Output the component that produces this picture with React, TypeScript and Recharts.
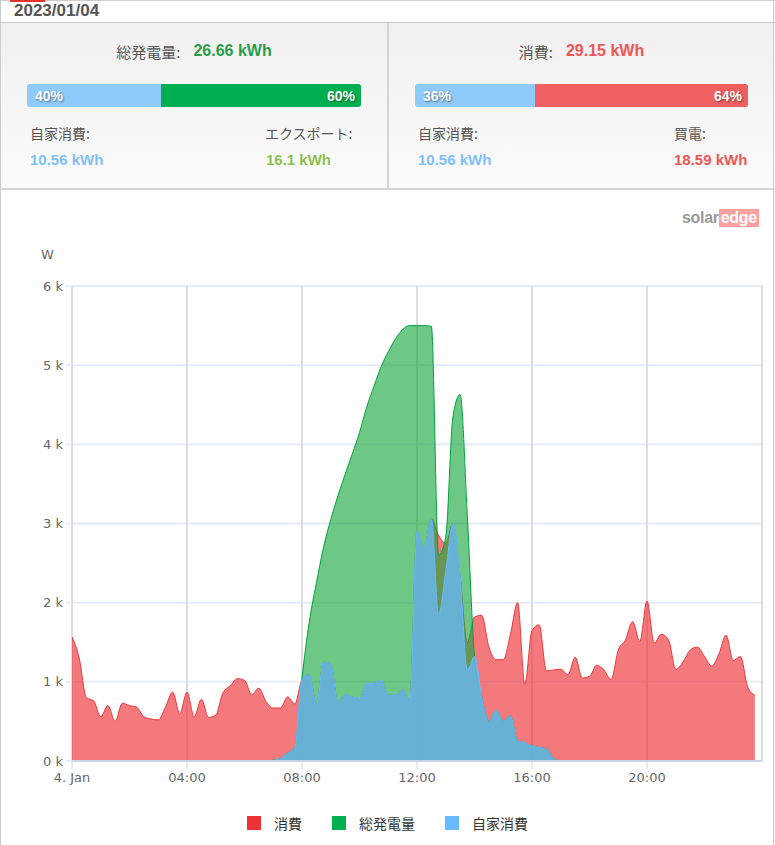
import React from "react";
import { AreaChart, Area, XAxis, YAxis, CartesianGrid } from "recharts";

// 15-minute slots (hours since midnight)
const HOURS = [
  0, 0.25, 0.5, 0.75, 1, 1.25, 1.5, 1.75, 2, 2.25, 2.5, 2.75,
  3, 3.25, 3.5, 3.75, 4, 4.25, 4.5, 4.75, 5, 5.25, 5.5, 5.75,
  6, 6.25, 6.5, 6.75, 7, 7.25, 7.5, 7.75, 8, 8.25, 8.5, 8.75,
  9, 9.25, 9.5, 9.75, 10, 10.25, 10.5, 10.75, 11, 11.25, 11.5, 11.75,
  12, 12.25, 12.5, 12.75, 13, 13.25, 13.5, 13.75, 14, 14.25, 14.5, 14.75,
  15, 15.25, 15.5, 15.75, 16, 16.25, 16.5, 16.75, 17, 17.25, 17.5, 17.75,
  18, 18.25, 18.5, 18.75, 19, 19.25, 19.5, 19.75, 20, 20.25, 20.5, 20.75,
  21, 21.25, 21.5, 21.75, 22, 22.25, 22.5, 22.75, 23, 23.25, 23.5, 23.75,
];

// 消費 (kW)
const CONSUMPTION = [
  1.57, 1.3, 0.8, 0.76, 0.56, 0.7, 0.5, 0.73, 0.7, 0.68, 0.56, 0.53,
  0.52, 0.68, 0.87, 0.6, 0.87, 0.56, 0.78, 0.55, 0.58, 0.86, 0.95, 1.04,
  1.02, 0.84, 0.92, 0.75, 0.67, 0.67, 0.81, 0.72, 1.03, 1.09, 0.72, 1.25,
  1.22, 0.74, 0.84, 0.81, 0.79, 0.98, 0.98, 1.02, 0.83, 0.83, 0.9, 0.76,
  2.9, 2.68, 3.06, 2.85, 2.75, 3.0, 2.33, 1.5, 1.82, 1.84, 1.44, 1.28,
  1.28, 1.6, 2.0, 0.97, 1.65, 1.72, 1.14, 1.15, 1.16, 1.09, 1.31, 1.05,
  1.07, 1.21, 1.15, 1.03, 1.4, 1.53, 1.76, 1.51, 2.02, 1.49, 1.6, 1.53,
  1.16, 1.25, 1.4, 1.44, 1.32, 1.2, 1.35, 1.59, 1.27, 1.32, 0.94, 0.83,
];

// 総発電量 (kW)
const PRODUCTION = [
  null, null, null, null, null, null, null, null, null, null, null, null,
  null, null, null, null, null, null, null, null, null, null, null, null,
  null, null, null, 0, 0.01, 0.03, 0.1, 0.17, 1.05, 1.75, 2.25, 2.7,
  3.05, 3.35, 3.62, 3.88, 4.15, 4.47, 4.73, 4.98, 5.17, 5.33, 5.45, 5.5,
  5.5, 5.5, 5.49, 2.6, 2.83, 4.35, 4.63, 3.1, 1.32, 0.81, 0.5, 0.64,
  0.5, 0.57, 0.25, 0.23, 0.19, 0.17, 0.15, 0.03, 0, 0, null, null,
  null, null, null, null, null, null, null, null, null, null, null, null,
  null, null, null, null, null, null, null, null, null, null, null, null,
];

// 自家消費 (kW)
const SELF_USE = [
  null, null, null, null, null, null, null, null, null, null, null, null,
  null, null, null, null, null, null, null, null, null, null, null, null,
  null, null, null, 0, 0.01, 0.03, 0.1, 0.17, 1.03, 1.09, 0.72, 1.25,
  1.22, 0.74, 0.84, 0.81, 0.79, 0.98, 0.98, 1.02, 0.83, 0.83, 0.9, 0.76,
  2.9, 2.68, 3.06, 1.85, 2.4, 3.0, 2.33, 1.15, 1.32, 0.81, 0.5, 0.64,
  0.5, 0.57, 0.25, 0.23, 0.19, 0.17, 0.15, 0.03, 0, 0, null, null,
  null, null, null, null, null, null, null, null, null, null, null, null,
  null, null, null, null, null, null, null, null, null, null, null, null,
];

const X_TICKS = [0, 4, 8, 12, 16, 20];
const X_TICK_LABELS = ["4. Jan", "04:00", "08:00", "12:00", "16:00", "20:00"];
const Y_TICKS = [0, 1, 2, 3, 4, 5, 6];

const SERIES_NAMES = ["消費", "総発電量", "自家消費"];
const SERIES_COLORS = ["#ee3338", "#00b050", "#66bbff"];

const rows = HOURS.map((h, i) => ({
  h,
  consumption: CONSUMPTION[i],
  production: PRODUCTION[i],
  selfUse: SELF_USE[i],
}));

const JP = '"Noto Sans CJK JP", "Noto Sans", sans-serif';
const LAT = '"Liberation Sans", Arial, sans-serif';
const AX = '"DejaVu Sans", sans-serif';

const abs = (s: React.CSSProperties): React.CSSProperties => ({ position: "absolute", ...s });

function Bar({ left, width, pct, color, leftLabel, rightLabel }: any) {
  const split = Math.round((width * pct) / 100);
  return (
    <div
      style={abs({
        left,
        top: 84,
        width,
        height: 23,
        borderRadius: 3,
        overflow: "hidden",
        boxShadow: "inset 0 0 0 1px rgba(0,0,0,0.08)",
      })}
    >
      <div style={abs({ left: 0, top: 0, width: split, height: 23, background: "#8ecbfa" })} />
      <div style={abs({ left: split, top: 0, width: width - split, height: 23, background: color })} />
      <div
        style={abs({
          left: 8,
          top: 0,
          lineHeight: "24px",
          fontFamily: LAT,
          fontWeight: 700,
          fontSize: 14,
          color: "#fff",
          textShadow: "1px 1px 2px rgba(0,0,0,0.45)",
        })}
      >
        {leftLabel}
      </div>
      <div
        style={abs({
          right: 6,
          top: 0,
          lineHeight: "24px",
          fontFamily: LAT,
          fontWeight: 700,
          fontSize: 14,
          color: "#fff",
          textShadow: "1px 1px 2px rgba(0,0,0,0.45)",
        })}
      >
        {rightLabel}
      </div>
    </div>
  );
}

function Label({ x, y, text }: any) {
  return (
    <div style={abs({ left: x, top: y - 10, lineHeight: "20px", fontFamily: JP, fontSize: 14, color: "#555" })}>
      {text}
    </div>
  );
}

function Value({ x, y, text, color }: any) {
  return (
    <div
      style={abs({ left: x, top: y - 10, lineHeight: "20px", fontFamily: LAT, fontWeight: 700, fontSize: 15, color })}
    >
      {text}
    </div>
  );
}

function Title({ left, width, label, value, color }: any) {
  return (
    <div
      style={abs({
        left,
        top: 41,
        width,
        height: 20,
        display: "flex",
        justifyContent: "center",
        alignItems: "center",
        whiteSpace: "nowrap",
      })}
    >
      <span style={{ fontFamily: JP, fontSize: 15, color: "#555" }}>{label}</span>
      <span style={{ fontFamily: LAT, fontWeight: 700, fontSize: 16, color, marginLeft: 13 }}>{value}</span>
    </div>
  );
}

export default function App() {
  return (
    <div style={abs({ left: 0, top: 0, width: 775, height: 845, background: "#fff", overflow: "hidden" })}>
      {/* header */}
      <div style={abs({ left: 0, top: 0, width: 775, height: 1, background: "#ccc" })} />
      <div style={abs({ left: 10, top: 0, width: 35, height: 2, background: "#e83030" })} />
      <div style={abs({ left: 0, top: 0, width: 1, height: 845, background: "#ccc" })} />
      <div style={abs({ left: 773, top: 0, width: 1, height: 845, background: "#ccc" })} />
      <div
        style={abs({
          left: 14,
          top: 1,
          fontFamily: LAT,
          fontWeight: 700,
          fontSize: 17,
          color: "#555",
          lineHeight: "normal",
        })}
      >
        2023/01/04
      </div>
      <div style={abs({ left: 0, top: 22, width: 775, height: 1, background: "#c8c8c8" })} />

      {/* summary panel */}
      <div
        style={abs({
          left: 1,
          top: 23,
          width: 772,
          height: 165,
          background: "linear-gradient(#f0f0f0, #fbfbfb)",
        })}
      />
      <div style={abs({ left: 387, top: 23, width: 2, height: 165, background: "#d4d4d4" })} />
      <div style={abs({ left: 0, top: 188, width: 775, height: 2, background: "#d4d4d4" })} />

      <Title left={0} width={388} label="総発電量:" value="26.66 kWh" color="#2a9d4a" />
      <Title left={388} width={387} label="消費:" value="29.15 kWh" color="#f05555" />

      <Bar left={27} width={334} pct={40} color="#00b050" leftLabel="40%" rightLabel="60%" />
      <Bar left={415} width={333} pct={36} color="#f06060" leftLabel="36%" rightLabel="64%" />

      <Label x={30} y={133} text="自家消費:" />
      <Label x={265} y={133} text="エクスポート:" />
      <Label x={418} y={133} text="自家消費:" />
      <Label x={674} y={133} text="買電:" />

      <Value x={30} y={160} text="10.56 kWh" color="#80c0f8" />
      <Value x={266} y={160} text="16.1 kWh" color="#8cc152" />
      <Value x={418} y={160} text="10.56 kWh" color="#80c0f8" />
      <Value x={674} y={160} text="18.59 kWh" color="#f05555" />

      {/* logo */}
      <div
        style={abs({
          left: 682,
          top: 208,
          height: 20,
          display: "flex",
          alignItems: "center",
          fontFamily: LAT,
          fontWeight: 700,
          fontSize: 16,
          opacity: 0.55,
          letterSpacing: -0.3,
        })}
      >
        <span style={{ color: "#444" }}>solar</span>
        <span style={{ color: "#fff", background: "#ff5555", padding: "0 2px", lineHeight: "18px" }}>edge</span>
      </div>

      {/* unit */}
      <div style={abs({ left: 41, top: 247, fontFamily: AX, fontSize: 13, color: "#666", lineHeight: "16px" })}>W</div>

      {/* chart */}
      <div style={abs({ left: 0, top: 188 })}>
        <AreaChart width={775} height={657} data={rows} margin={{ top: 98, right: 13, left: 12, bottom: 54 }}>
          <CartesianGrid horizontal={true} vertical={false} stroke="#e4ecf6" strokeWidth={2} />
          <CartesianGrid horizontal={false} vertical={true} stroke="#dcdcdc" strokeWidth={2} />
          <XAxis
            dataKey="h"
            type="number"
            domain={[0, 24]}
            ticks={X_TICKS}
            tickFormatter={(v: number) => X_TICK_LABELS[X_TICKS.indexOf(v)]}
            axisLine={{ stroke: "#ccd6eb", strokeWidth: 2 }}
            tickLine={{ stroke: "#ccd6eb" }}
            tickSize={8}
            tickMargin={4}
            tick={{ fontFamily: AX, fontSize: 13, fill: "#666" }}
            allowDataOverflow
          />
          <YAxis
            type="number"
            domain={[0, 6]}
            ticks={Y_TICKS}
            tickFormatter={(v: number) => `${v} k`}
            axisLine={false}
            tickLine={{ stroke: "#e4ecf6", strokeWidth: 2 }}
            tickSize={6}
            tickMargin={3}
            width={60}
            tick={{ fontFamily: AX, fontSize: 13, fill: "#666" }}
          />
          <Area
            type="monotone"
            dataKey="consumption"
            name={SERIES_NAMES[0]}
            stroke="#e8383c"
            strokeWidth={1}
            fill={SERIES_COLORS[0]}
            fillOpacity={0.66}
            isAnimationActive={false}
            dot={false}
            activeDot={false}
          />
          <Area
            type="monotone"
            dataKey="production"
            name={SERIES_NAMES[1]}
            stroke="#00a23c"
            strokeWidth={1}
            fill="#18a73e"
            fillOpacity={0.63}
            isAnimationActive={false}
            dot={false}
            activeDot={false}
          />
          <Area
            type="monotone"
            dataKey="selfUse"
            name={SERIES_NAMES[2]}
            stroke="#66bbff"
            strokeWidth={1}
            fill={SERIES_COLORS[2]}
            fillOpacity={0.75}
            isAnimationActive={false}
            dot={false}
            activeDot={false}
          />
        </AreaChart>
      </div>

      {/* legend */}
      <div
        style={abs({
          left: 0,
          top: 812,
          width: 775,
          height: 22,
          display: "flex",
          justifyContent: "center",
          alignItems: "center",
        })}
      >
        {SERIES_NAMES.map((n, i) => (
          <div key={n} style={{ display: "flex", alignItems: "center", marginRight: i < 2 ? 30 : 0 }}>
            <div style={{ width: 14, height: 14, background: SERIES_COLORS[i], marginRight: 13 }} />
            <span style={{ fontFamily: JP, fontSize: 14, color: "#333" }}>{n}</span>
          </div>
        ))}
      </div>
    </div>
  );
}
